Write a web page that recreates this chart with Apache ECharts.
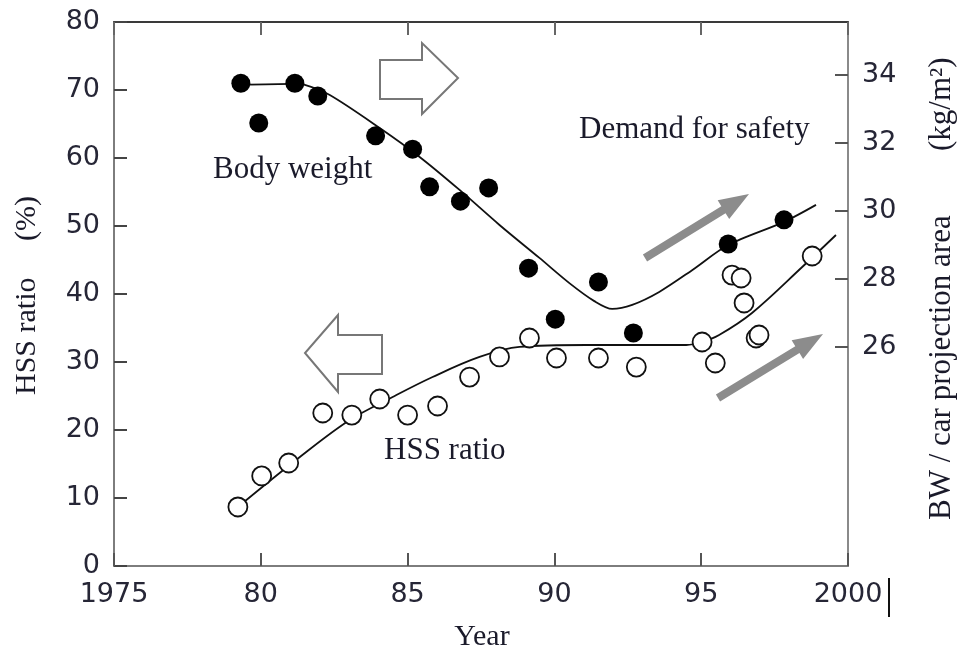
<!DOCTYPE html>
<html>
<head>
<meta charset="utf-8">
<script src="https://cdn.jsdelivr.net/npm/echarts@6/dist/echarts.min.js"></script>
<style>html,body{margin:0;padding:0;background:#fff;}#c{width:960px;height:653px;}</style>
</head>
<body>
<div id="c"></div>
<script>
// ---- data ----
var bwYears  = [1979.32, 1979.93, 1981.16, 1981.94, 1983.91, 1985.17, 1985.75, 1986.80, 1987.76, 1989.12, 1990.03, 1991.50, 1992.69, 1995.92, 1997.82];
var bwValues = [33.76, 32.59, 33.76, 33.38, 32.21, 31.82, 30.71, 30.29, 30.68, 28.32, 26.82, 27.91, 26.41, 29.03, 29.74];

var bwCurveYears  = [1979.32, 1981.09, 1981.50, 1982.35, 1984.05, 1985.41, 1986.77, 1988.13, 1989.49, 1990.51, 1991.36, 1991.97, 1992.65, 1993.57, 1994.69, 1995.92, 1997.82, 1998.91];
var bwCurveValues = [33.71, 33.74, 33.71, 33.41, 32.44, 31.59, 30.62, 29.59, 28.62, 27.88, 27.35, 27.12, 27.24, 27.62, 28.26, 29.00, 29.68, 30.18];

var hssYears  = [1979.22, 1980.03, 1980.95, 1982.11, 1983.10, 1984.05, 1985.00, 1986.02, 1987.11, 1988.13, 1989.15, 1990.07, 1991.50, 1992.79, 1995.03, 1995.48, 1996.05, 1996.36, 1996.46, 1996.87, 1996.97, 1998.78];
var hssValues = [8.68, 13.24, 15.15, 22.50, 22.20, 24.56, 22.20, 23.53, 27.79, 30.74, 33.53, 30.59, 30.59, 29.26, 32.94, 29.85, 42.79, 42.35, 38.68, 33.53, 33.97, 45.59];

var hssCurveYears  = [1979.22, 1981.33, 1983.03, 1984.49, 1985.85, 1987.45, 1988.81, 1991.09, 1994.49, 1995.03, 1995.61, 1996.73, 1998.44, 1999.59];
var hssCurveValues = [8.68, 16.03, 21.47, 24.85, 27.79, 30.74, 32.21, 32.50, 32.50, 32.94, 33.97, 37.21, 43.97, 48.68];

var xTicks = [1975, 1980, 1985, 1990, 1995, 2000];
var leftTicks = [0, 10, 20, 30, 40, 50, 60, 70, 80];
var rightTicks = [26, 28, 30, 32, 34];

// ---- build ----
function pairs(xs, ys) { return xs.map(function (x, i) { return [x, ys[i]]; }); }

function arrowPts(x1, y1, x2, y2, sw, hl, hw) {
  var dx = x2 - x1, dy = y2 - y1, L = Math.sqrt(dx * dx + dy * dy);
  var ux = dx / L, uy = dy / L, nx = -uy, ny = ux;
  var bx = x2 - ux * hl, by = y2 - uy * hl;
  return [
    [x1 + nx * sw, y1 + ny * sw], [bx + nx * sw, by + ny * sw], [bx + nx * hw, by + ny * hw],
    [x2, y2],
    [bx - nx * hw, by - ny * hw], [bx - nx * sw, by - ny * sw], [x1 - nx * sw, y1 - ny * sw]
  ];
}

var tickFont = { fontFamily: 'DejaVu Sans', fontSize: 27, color: '#262636' };
var frameGrey = '#7d7d7d';

var chart = echarts.init(document.getElementById('c'), null, { renderer: 'canvas' });
chart.setOption({
  animation: false,
  backgroundColor: '#fff',
  grid: { left: 114, right: 112, top: 22, bottom: 87, containLabel: false },
  xAxis: [{
    type: 'value', min: xTicks[0], max: xTicks[xTicks.length - 1], interval: 5, position: 'bottom',
    axisLine: { show: true, onZero: false, lineStyle: { color: frameGrey, width: 2 } },
    axisTick: { show: true, inside: true, length: 13, lineStyle: { color: '#555', width: 2 } },
    axisLabel: Object.assign({ margin: 15, formatter: function (v) { return (v === 1975 || v === 2000) ? String(v) : String(v % 100); } }, tickFont),
    splitLine: { show: false }
  }, {
    type: 'value', min: xTicks[0], max: xTicks[xTicks.length - 1], interval: 5, position: 'top',
    axisLine: { show: true, onZero: false, lineStyle: { color: '#3a3a3a', width: 2 } },
    axisTick: { show: true, inside: true, length: 13, lineStyle: { color: '#666', width: 2 } },
    axisLabel: { show: false }, splitLine: { show: false }
  }],
  yAxis: [{
    type: 'value', min: leftTicks[0], max: leftTicks[leftTicks.length - 1], interval: 10, position: 'left',
    axisLine: { show: true, onZero: false, lineStyle: { color: frameGrey, width: 2 } },
    axisTick: { show: true, inside: true, length: 13, lineStyle: { color: '#444', width: 2 } },
    axisLabel: Object.assign({ margin: 14 }, tickFont),
    splitLine: { show: false }
  }, {
    type: 'value', min: 19.559, max: 35.559, position: 'right',
    axisLine: { show: true, onZero: false, lineStyle: { color: '#8a8a8a', width: 2 } },
    axisTick: { show: true, inside: true, length: 13, customValues: rightTicks, lineStyle: { color: '#555', width: 2 } },
    axisLabel: Object.assign({ margin: 14, customValues: rightTicks }, tickFont),
    splitLine: { show: false }
  }],
  series: [{
    name: 'BW curve', type: 'line', yAxisIndex: 1, smooth: 0.3, showSymbol: false, silent: true,
    data: pairs(bwCurveYears, bwCurveValues), lineStyle: { color: '#111', width: 1.8 }, z: 2
  }, {
    name: 'HSS curve', type: 'line', yAxisIndex: 0, smooth: 0.35, showSymbol: false, silent: true,
    data: pairs(hssCurveYears, hssCurveValues), lineStyle: { color: '#111', width: 1.8 }, z: 2
  }, {
    name: 'Body weight', type: 'scatter', yAxisIndex: 1, symbol: 'circle', symbolSize: 19,
    data: pairs(bwYears, bwValues), itemStyle: { color: '#000', opacity: 1 }, z: 4
  }, {
    name: 'HSS ratio', type: 'scatter', yAxisIndex: 0, symbol: 'circle', symbolSize: 19,
    data: pairs(hssYears, hssValues), itemStyle: { color: '#fff', borderColor: '#111', borderWidth: 1.8, opacity: 1 }, z: 5
  }],
  graphic: [
    // outlined arrows
    { type: 'polygon', shape: { points: [[380, 60], [422, 60], [422, 43], [458, 78], [422, 114], [422, 99], [380, 99]] },
      style: { fill: '#fff', stroke: '#777', lineWidth: 2 }, z: 10 },
    { type: 'polygon', shape: { points: [[382, 335], [338, 335], [338, 315], [305, 353], [338, 392], [338, 374], [382, 374]] },
      style: { fill: '#fff', stroke: '#777', lineWidth: 2 }, z: 10 },
    // grey filled arrows
    { type: 'polygon', shape: { points: arrowPts(645, 258, 749, 194, 4, 30, 11) }, style: { fill: '#8c8c8c' }, z: 10 },
    { type: 'polygon', shape: { points: arrowPts(718, 398, 823, 334, 4, 30, 11) }, style: { fill: '#8c8c8c' }, z: 10 },
    // annotations
    { type: 'text', x: 213, y: 170, style: { text: 'Body weight', font: '31px "Liberation Serif"', fill: '#1a1a2a', textVerticalAlign: 'middle' }, z: 11 },
    { type: 'text', x: 579, y: 130, style: { text: 'Demand for safety', font: '31px "Liberation Serif"', fill: '#1a1a2a', textVerticalAlign: 'middle' }, z: 11 },
    { type: 'text', x: 384, y: 451, style: { text: 'HSS ratio', font: '31px "Liberation Serif"', fill: '#1a1a2a', textVerticalAlign: 'middle' }, z: 11 },
    // axis titles
    { type: 'text', x: 482, y: 637, style: { text: 'Year', font: '30px "Liberation Serif"', fill: '#1a1a2a', textAlign: 'center', textVerticalAlign: 'middle' }, z: 11 },
    { type: 'text', x: 27, y: 395, rotation: Math.PI / 2, style: { text: 'HSS ratio', font: '30px "Liberation Serif"', fill: '#1a1a2a', textAlign: 'left', textVerticalAlign: 'middle' }, z: 11 },
    { type: 'text', x: 27, y: 241, rotation: Math.PI / 2, style: { text: '(%)', font: '30px "Liberation Serif"', fill: '#1a1a2a', textAlign: 'left', textVerticalAlign: 'middle' }, z: 11 },
    { type: 'text', x: 942, y: 520, rotation: Math.PI / 2, style: { text: 'BW / car projection area', font: '31px "Liberation Serif"', fill: '#1a1a2a', textAlign: 'left', textVerticalAlign: 'middle' }, z: 11 },
    { type: 'text', x: 942, y: 151, rotation: Math.PI / 2, style: { text: '(kg/m²)', font: '31px "Liberation Serif"', fill: '#1a1a2a', textAlign: 'left', textVerticalAlign: 'middle' }, z: 11 },
    // stray cursor bar after "2000"
    { type: 'line', shape: { x1: 889, y1: 578, x2: 889, y2: 617 }, style: { stroke: '#111', lineWidth: 2 }, z: 11 }
  ]
});
</script>
</body>
</html>
